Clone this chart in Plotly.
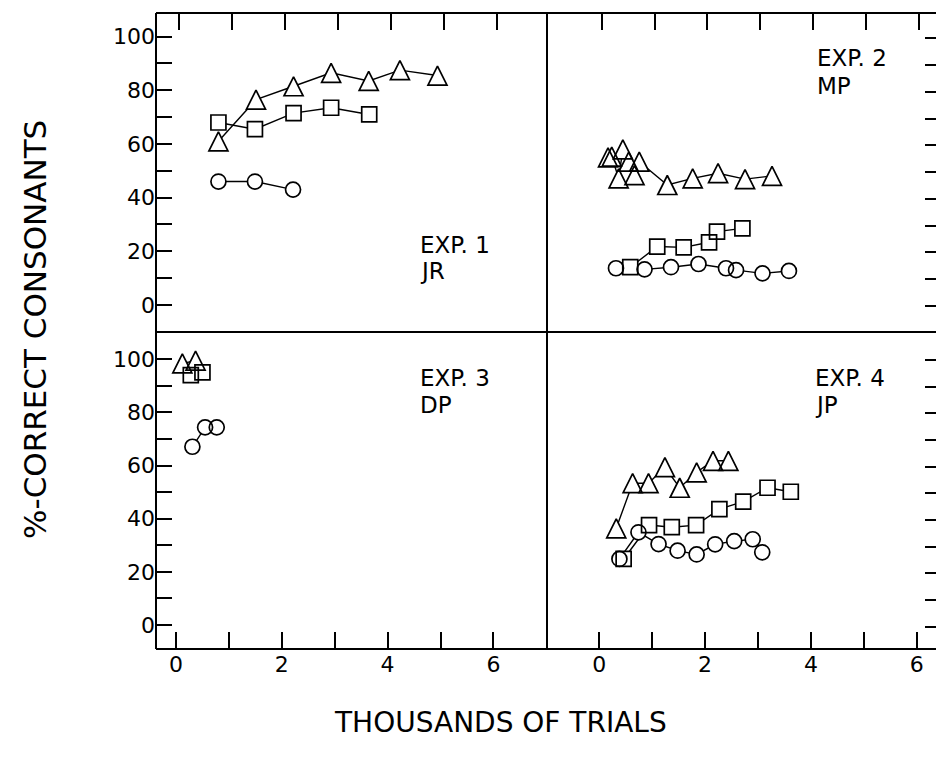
import plotly.graph_objects as go

# ---------------- data (thousands of trials, % correct consonants) ----------------
# Exp. 1  JR
e1_tri_x = [0.74, 1.45, 2.16, 2.87, 3.58, 4.17, 4.88]
e1_tri_y = [61, 76.5, 81.5, 86.5, 83.5, 87.5, 85.5]
e1_sq_x = [0.74, 1.43, 2.16, 2.87, 3.59]
e1_sq_y = [68, 65.5, 71.5, 73.5, 71]
e1_ci_x = [0.74, 1.43, 2.15]
e1_ci_y = [46, 46, 43]

# Exp. 2  MP
e2_tri_x = [0.12, 0.19, 0.32, 0.40, 0.51, 0.62, 0.71, 1.24, 1.72, 2.20, 2.71, 3.22]
e2_tri_y = [55.5, 55.8, 47.7, 58.5, 53.9, 48.9, 53.9, 45.2, 47.7, 49.6, 47.4, 48.6]
e2_sq_x = [0.54, 1.05, 1.55, 2.03, 2.18, 2.66]
e2_sq_y = [14.5, 22.2, 21.9, 23.8, 27.8, 29.0]
e2_ci_x = [0.27, 0.81, 1.31, 1.83, 2.35, 2.54, 3.04, 3.54]
e2_ci_y = [14.1, 13.7, 14.5, 15.7, 14.1, 13.4, 12.2, 13.1]

# Exp. 3  DP
e3_tri_x = [0.12, 0.37]
e3_tri_y = [98.5, 99.5]
e3_sq_x = [0.28, 0.50]
e3_sq_y = [94.1, 95.1]
e3_ci_x = [0.31, 0.55, 0.77]
e3_ci_y = [67.1, 74.4, 74.4]

# Exp. 4  JP
e4_tri_x = [0.32, 0.63, 0.93, 1.24, 1.52, 1.84, 2.15, 2.44]
e4_tri_y = [36.9, 53.8, 53.8, 59.8, 52.1, 57.9, 62.2, 62.2]
e4_sq_x = [0.46, 0.94, 1.37, 1.83, 2.27, 2.72, 3.18, 3.62]
e4_sq_y = [25.4, 38.1, 37.3, 38.1, 44.1, 46.9, 52.1, 50.6]
e4_ci_x = [0.38, 0.74, 1.12, 1.48, 1.84, 2.19, 2.55, 2.90, 3.08]
e4_ci_y = [25.4, 35.4, 31.0, 28.5, 27.1, 30.9, 32.1, 32.8, 27.9]

y_tick_vals = list(range(0, 101, 10))
y_tick_text = ["0", "", "20", "", "40", "", "60", "", "80", "", "100"]
x_tick_vals = list(range(0, 7))
x_tick_text = ["0", "", "2", "", "4", "", "6"]

panel_labels = [("EXP. 1", "JR"), ("EXP. 2", "MP"), ("EXP. 3", "DP"), ("EXP. 4", "JP")]

# ---------------- figure ----------------
W, H = 936, 760
FONT = "DejaVu Sans"
fig = go.Figure()

def px_x(p):
    return p / W

def px_y(p):
    return 1 - p / H

XL = [px_x(156), px_x(547)]
XR = [px_x(547), 1.0]
YT = [px_y(332), px_y(13)]
YB = [px_y(649), px_y(332)]

panels = [
    ("x", "y", [(e1_tri_x, e1_tri_y), (e1_sq_x, e1_sq_y), (e1_ci_x, e1_ci_y)]),
    ("x2", "y2", [(e2_tri_x, e2_tri_y), (e2_sq_x, e2_sq_y), (e2_ci_x, e2_ci_y)]),
    ("x3", "y3", [(e3_tri_x, e3_tri_y), (e3_sq_x, e3_sq_y), (e3_ci_x, e3_ci_y)]),
    ("x4", "y4", [(e4_tri_x, e4_tri_y), (e4_sq_x, e4_sq_y), (e4_ci_x, e4_ci_y)]),
]

TRI_SIZE = 19
symbols = [
    dict(symbol="arrow-down", angle=180, standoff=TRI_SIZE / 2, size=TRI_SIZE),
    dict(symbol="square", size=15),
    dict(symbol="circle", size=15),
]

for xa, ya, series in panels:
    for xs, ys in series:
        fig.add_trace(go.Scatter(x=xs, y=ys, xaxis=xa, yaxis=ya, mode="lines",
                                 line=dict(color="black", width=1.4),
                                 showlegend=False, hoverinfo="skip"))
    for (xs, ys), sym in zip(series, symbols):
        fig.add_trace(go.Scatter(x=xs, y=ys, xaxis=xa, yaxis=ya, mode="markers",
                                 marker=dict(color="white", line=dict(width=0), **sym),
                                 showlegend=False, hoverinfo="skip"))
    for (xs, ys), sym in zip(series, symbols):
        fig.add_trace(go.Scatter(x=xs, y=ys, xaxis=xa, yaxis=ya, mode="markers",
                                 marker=dict(color="rgba(0,0,0,0)",
                                             line=dict(color="black", width=1.7), **sym),
                                 showlegend=False))

tickfont = dict(family=FONT, size=22, color="black")

common_x = dict(showgrid=False, zeroline=False, showline=False, ticks="inside",
                ticklen=17, tickwidth=1.5, tickcolor="black", tickvals=x_tick_vals,
                ticktext=x_tick_text, tickfont=tickfont, fixedrange=True)
common_y = dict(showgrid=False, zeroline=False, showline=False, ticks="inside",
                ticklen=16, tickwidth=1.5, tickcolor="black", tickvals=y_tick_vals,
                ticktext=y_tick_text, tickfont=tickfont, fixedrange=True)

fig.update_layout(
    width=W, height=H,
    margin=dict(l=0, r=0, t=0, b=0),
    paper_bgcolor="white", plot_bgcolor="white",
    font=dict(family=FONT, color="black"),
    showlegend=False,
    xaxis=dict(common_x, domain=XL, anchor="y", side="top", range=[-0.44, 6.95],
               showticklabels=False),
    yaxis=dict(common_y, domain=YT, anchor="x", side="left", range=[-10.06, 108.8]),
    xaxis2=dict(common_x, domain=XR, anchor="y2", side="top", range=[-1.034, 6.32],
                showticklabels=False),
    yaxis2=dict(common_y, domain=YT, anchor="x2", side="right", range=[-9.71, 109.45],
                showticklabels=False, ticklen=11),
    xaxis3=dict(common_x, domain=XL, anchor="y3", side="bottom", range=[-0.378, 7.013]),
    yaxis3=dict(common_y, domain=YB, anchor="x3", side="left", range=[-9.03, 110.3]),
    xaxis4=dict(common_x, domain=XR, anchor="y4", side="bottom", range=[-0.989, 6.365]),
    yaxis4=dict(common_y, domain=YB, anchor="x4", side="right", range=[-8.36, 110.5],
                showticklabels=False, ticklen=11),
)

frame = [
    (156, 13, 936, 13),
    (156, 13, 156, 649),
    (156, 649, 936, 649),
    (547, 13, 547, 649),
    (156, 332, 936, 332),
]
for x0, y0, x1, y1 in frame:
    fig.add_shape(type="line", xref="paper", yref="paper",
                  x0=px_x(x0), y0=px_y(y0), x1=px_x(x1), y1=px_y(y1),
                  line=dict(color="black", width=2))

label_pos = [(418, 245, 271), (815, 58, 86), (418, 378, 405), (813, 378, 405)]
for (l1, l2), (lx, ly1, ly2) in zip(panel_labels, label_pos):
    for txt, ly in ((l1, ly1), (l2, ly2)):
        fig.add_annotation(text=txt, xref="paper", yref="paper", x=px_x(lx), y=px_y(ly),
                           xanchor="left", yanchor="middle", showarrow=False,
                           font=dict(family=FONT, size=23, color="black"))

fig.add_annotation(text="%-CORRECT CONSONANTS", xref="paper", yref="paper",
                   x=px_x(35), y=px_y(330), xanchor="center", yanchor="middle",
                   textangle=-90, showarrow=False,
                   font=dict(family=FONT, size=31, color="black"))
fig.add_annotation(text="THOUSANDS OF TRIALS", xref="paper", yref="paper",
                   x=px_x(500), y=px_y(722), xanchor="center", yanchor="middle",
                   showarrow=False, font=dict(family=FONT, size=28, color="black"))

fig.write_html("out.html")
